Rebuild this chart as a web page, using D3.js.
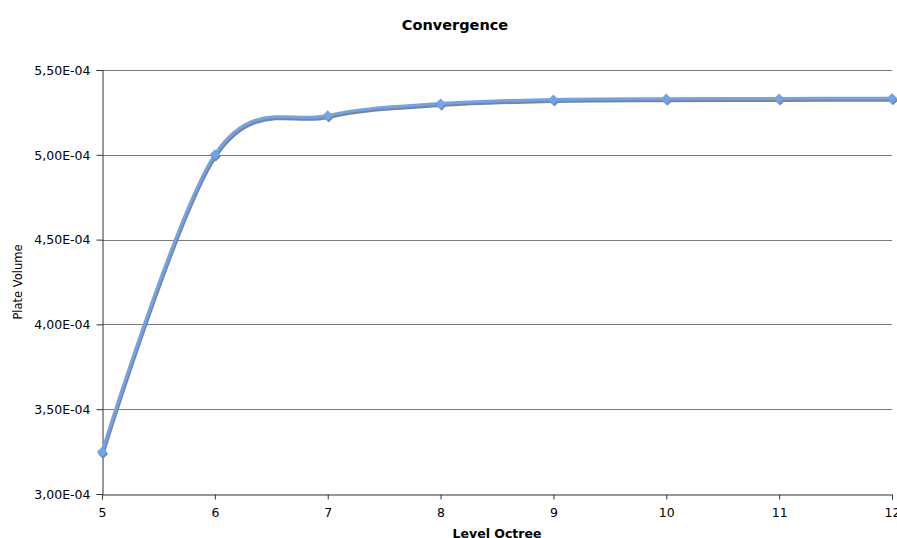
<!DOCTYPE html>
<html><head><meta charset="utf-8">
<script src="https://cdn.jsdelivr.net/npm/d3@7"></script>
<style>body{margin:0;background:#fff}svg{display:block}text{font-family:"DejaVu Sans",Verdana,sans-serif;fill:#000}</style>
</head><body>
<svg id="c" width="897" height="538"></svg>
<script>
const levels = [5, 6, 7, 8, 9, 10, 11, 12];
const volumes = [3.248e-4, 5.002e-4, 5.232e-4, 5.302e-4, 5.326e-4, 5.331e-4, 5.332e-4, 5.334e-4];
const yTicks = [3.0e-4, 3.5e-4, 4.0e-4, 4.5e-4, 5.0e-4, 5.5e-4];
const xTicks = [5, 6, 7, 8, 9, 10, 11, 12];
const title = "Convergence";
const xTitle = "Level Octree";
const yTitle = "Plate Volume";

const svg = d3.select("#c");
const L = 102, R = 892, T = 70, B = 494;
const x = d3.scaleLinear().domain([5, 12]).range([L, R]);
const y = d3.scaleLinear().domain([3.0e-4, 5.5e-4]).range([B, T]);
const fmt = v => v.toExponential(2).replace(".", ",").replace(/e([+-])(\d)$/, "E$10$2").replace(/e([+-])(\d\d)$/, "E$1$2");
const FF = '"DejaVu Sans",Verdana,sans-serif';

// gridlines
svg.append("g").selectAll("line").data(yTicks.filter(d => d > 3.0e-4)).join("line")
  .attr("x1", L).attr("x2", R).attr("y1", d => Math.round(y(d)) + 0.5).attr("y2", d => Math.round(y(d)) + 0.5)
  .attr("stroke", "#7a7a7a").attr("stroke-width", 1.2);

// axes
const yAxis = d3.axisLeft(y).tickValues(yTicks).tickFormat(fmt).tickSize(6).tickPadding(6);
const gy = svg.append("g").attr("transform", `translate(${L + 0.5},0)`).call(yAxis);
gy.attr("font-size", null).attr("font-family", null);
gy.selectAll("text").style("font-size", "12.5px").style("font-family", FF).attr("fill", "#000").attr("dy", "0.34em");
gy.selectAll("line,path").attr("stroke", "#333");

const xAxis = d3.axisBottom(x).tickValues(xTicks).tickFormat(d3.format("d")).tickSize(5).tickPadding(11);
const gx = svg.append("g").attr("transform", `translate(0,${B + 0.5})`).call(xAxis);
gx.attr("font-size", null).attr("font-family", null);
gx.selectAll("text").style("font-size", "12.5px").style("font-family", FF).attr("fill", "#000").attr("dy", "0.5em");
gx.selectAll("line,path").attr("stroke", "#333");

// line
const data = levels.map((l, i) => ({ l, v: volumes[i] }));
const line = d3.line().x(d => x(d.l)).y(d => y(d.v)).curve(d3.curveCardinal.tension(0));
svg.append("path").datum(data).attr("d", line).attr("fill", "none")
  .attr("stroke", "#777").attr("stroke-width", 3).attr("transform", "translate(1,2)").attr("opacity", 0.9);
svg.append("path").datum(data).attr("d", line).attr("fill", "none")
  .attr("stroke", "#69a5f0").attr("stroke-width", 3);

const diamond = d3.symbol().type(d3.symbolSquare).size(52);
svg.append("g").selectAll("path.sh").data(data).join("path")
  .attr("transform", d => `translate(${x(d.l) + 1},${y(d.v) + 2}) rotate(45)`).attr("d", diamond).attr("fill", "#888");
svg.append("g").selectAll("path.mk").data(data).join("path")
  .attr("transform", d => `translate(${x(d.l)},${y(d.v)}) rotate(45)`).attr("d", diamond).attr("fill", "#6aa6f2");

// titles
svg.append("text").attr("x", 455).attr("y", 30).attr("text-anchor", "middle")
  .style("font-size", "14.5px").attr("font-weight", "bold").text(title);
svg.append("text").attr("x", 497).attr("y", 538).attr("text-anchor", "middle")
  .style("font-size", "12.5px").attr("font-weight", "bold").text(xTitle);
svg.append("text").attr("transform", "translate(22,282) rotate(-90)").attr("text-anchor", "middle")
  .style("font-size", "11.5px").text(yTitle);
</script>
</body></html>
